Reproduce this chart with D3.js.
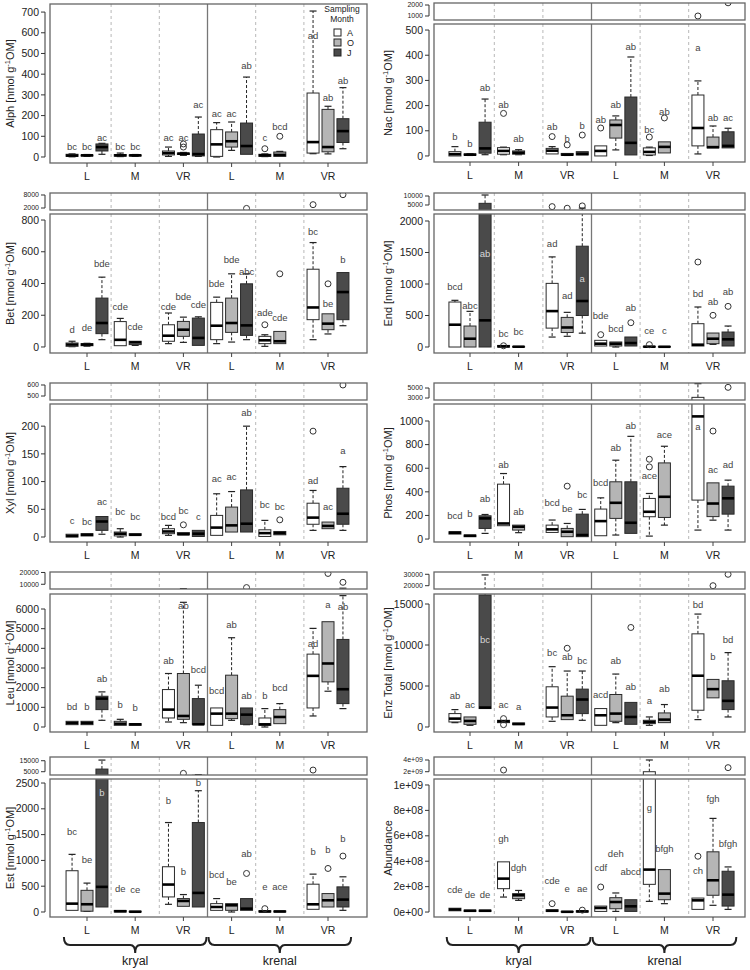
<!DOCTYPE html>
<html><head><meta charset="utf-8">
<script src="https://cdn.jsdelivr.net/npm/d3@7"></script>
<style>body{margin:0;background:#fff}svg{font-family:Arial,"Liberation Sans",sans-serif}</style>
</head><body><svg id="c" width="750" height="970"></svg>
<script>
// ---------- categories ----------
const groupLabels = ["L","M","VR","L","M","VR"];
const habitats = ["kryal","krenal"];
const months = ["A","O","J"];
const monthsPerGroup = [3,2,3,3,2,3];

// ---------- box statistics [lower whisker, Q1, median, Q3, upper whisker] ----------
// order: kryal L(A,O,J) M(A,O) VR(A,O,J), krenal L(A,O,J) M(A,O) VR(A,O,J)
const alphStats = [[1,3,7,13,15],[3,5,8,10,12],[13,29,48,63,66],[2,4,8,12,19],[3,5,8,10,12],[3,10,19,29,48],[8,12,16,19,22],[3,5,14,111,193],
  [0,3,61,132,166],[32,48,76,121,169],[13,13,53,164,386],[2,3,8,13,15],[3,3,10,24,27],[16,19,72,309,705],[15,25,48,230,245],[40,70,125,185,335]];
const alphOutliers = [[6,48],[6,63],[11,40],[12,100]];
const alphLetters = ["bc","bc","ac","bc","bc","ac","ac","ac","ac","ac","ab","c","bcd","ad","ab","ab"];
const alphLetterY = [48,48,92,48,48,92,92,253,209,209,443,92,145,587,285,370];

const nacStats = [[0,0,7,17,37],[2,3,5,8,9],[5,11,30,134,226],[5,7,20,33,35],[5,7,13,20,25],[8,8,21,30,37],[2,3,5,10,10],[4,4,8,17,17],
  [0,0,20,40,40],[24,71,123,143,159],[4,4,52,234,393],[2,4,16,32,35],[12,12,36,56,56],[8,40,111,242,298],[32,32,35,75,119],[32,32,40,96,110]];
const nacOutliers = [[3,169],[5,77],[6,44],[7,83],[8,111],[11,75],[12,151],[13,1000],[15,2200]];
const nacLetters = ["b","b","ab","ab","ab","ab","b","b","ab","ab","ab","bc","ab","a","ab","ac"];
const nacLetterY = [77,50,272,205,70,116,70,119,143,202,432,103,175,429,151,151];

const betStats = [[2,4,15,25,36],[5,8,15,21,23],[46,84,151,308,440],[8,8,45,160,180],[10,15,29,36,36],[21,36,71,140,214],[29,67,109,161,188],[10,10,57,182,190],
  [21,46,134,281,314],[31,92,151,308,461],[46,73,136,398,461],[4,21,42,67,77],[21,21,36,98,98],[46,172,249,490,658],[82,109,147,209,209],[134,172,346,469,469]];
const betOutliers = [[10,1800],[11,140],[12,461],[13,3540],[14,398],[15,8150]];
const betLetters = ["d","de","bde","cde","cde","cde","bde","cde","bde","bde","abc","ade","cde","bc","be","b"];
const betLetterY = [109,119,528,255,130,255,318,266,396,549,475,214,182,727,276,549];

const endStats = [[0,0,354,714,741],[0,0,132,333,566],[0,0,423,5925,10550],[0,0,10,25,25],[0,0,5,8,8],[158,300,570,1010,1430],[170,230,310,470,550],[220,500,730,1600,3300],
  [16,16,53,106,106],[0,16,53,80,80],[16,16,63,159,159],[0,0,5,10,10],[0,0,4,8,8],[16,16,37,370,635],[42,53,132,222,222],[16,16,122,238,333]];
const endOutliers = [[3,20],[5,4100],[6,3200],[7,4500],[8,196],[10,386],[11,37],[13,1349],[14,503],[15,645]];
const endLetters = ["bcd","abc","ab","bc","bc","ad","ad","a","bde","bcd","ab","ce","c","bd","ab","ab"];
const endLetterY = [952,661,1481,212,238,1640,810,1090,500,291,619,265,254,847,714,873];

const xylStats = [[0,0,2,5,5],[2,2,4,6,6],[5,12,28,37,37],[0,2,6,9,15],[3,3,4,6,6],[3,6,10,15,21],[4,4,5,8,8],[1,1,6,12,12],
  [3,3,17,39,78],[9,9,21,54,82],[9,9,24,85,200],[1,1,7,13,30],[4,4,7,10,10],[12,23,35,61,84],[15,15,20,27,27],[12,23,42,88,127]];
const xylOutliers = [[6,22],[12,31],[13,191],[15,600]];
const xylLetters = ["c","bc","ac","bc","bc","bcd","bc","c","ac","ac","ab","bc","bc","ad","ac","a"];
const xylLetterY = [30,28,64,46,36,36,48,36,105,109,225,58,54,101,55,156];

const phosStats = [[42,42,54,62,62],[20,20,28,34,34],[48,90,175,197,208],[113,113,132,465,555],[54,76,104,118,118],[56,56,82,118,161],[20,20,62,90,132],[20,20,34,211,251],
  [28,28,152,254,349],[34,175,307,485,668],[48,48,138,485,870],[25,189,231,344,386],[118,183,358,645,786],[76,330,1039,3130,5870],[160,190,301,476,476],[76,211,345,448,499]];
const phosOutliers = [[6,448],[11,611],[11,676],[14,915],[15,5130]];
const phosLetters = ["bcd","b","ab","ab","ab","bcd","be","bc","bcd","ab","ab","ace","ace","a","ac","ad"];
const phosLetterY = [194,211,344,634,231,307,259,372,476,775,963,541,887,955,589,631];

const leuStats = [[119,119,204,289,289],[119,119,204,289,289],[340,884,1445,1564,1785],[85,85,170,289,391],[85,85,136,170,170],[255,459,884,1904,2720],[221,391,561,2720,6340],[136,136,136,1445,2125],
  [85,85,680,969,969],[340,425,680,2635,4539],[119,136,629,969,969],[0,85,136,459,935],[170,170,510,884,1190],[561,969,2601,3706,5015],[1819,2295,3230,5354,5354],[935,1190,1921,4453,6680]];
const leuOutliers = [[10,7200],[14,19170],[15,11670]];
const leuLetters = ["bd","b","ab","b","b","ab","ab","bcd","bcd","ab","ab","b","bcd","ad","a","ab"];
const leuLetterY = [1020,1020,2465,1139,986,3349,6170,2890,1836,5185,1581,1615,2006,4216,6204,6119];

const enzStats = [[531,613,1022,1635,2125],[204,327,736,1226,1226],[2248,2248,2370,16100,29400],[531,531,695,817,817],[286,286,368,490,490],[695,1226,2370,4904,7356],[899,899,1430,3760,6825],[817,1635,3351,4618,6825],
  [204,204,1430,2248,2248],[531,695,1635,3964,6457],[327,327,1226,3000,3000],[204,409,613,817,1226],[531,531,899,1716,2738],[899,2043,6253,11361,13772],[3555,3555,4618,5803,5803],[1226,2125,3188,5640,9072]];
const enzOutliers = [[3,1022],[3,286],[6,9603],[10,12137],[14,20000],[15,30000]];
const enzLetters = ["ab","ac","bc","ac","a","bc","ab","bc","acd","ab","ab","a","ab","bd","b","bd"];
const enzLetterY = [3760,2738,10625,2738,2452,9072,8582,8051,3882,8051,4904,3269,4700,14916,8582,10625];

const estStats = [[32,32,162,800,1117],[13,15,150,420,560],[97,97,487,7400,15600],[0,0,15,30,30],[0,0,5,15,15],[149,292,532,877,1734],[110,110,214,260,338],[97,97,370,1734,2351],
  [32,32,97,162,260],[0,32,130,162,162],[32,32,65,260,260],[0,0,10,25,25],[0,0,10,20,20],[52,52,149,539,734],[97,97,227,357,357],[32,97,240,487,682]];
const estOutliers = [[6,3500],[10,747],[11,65],[13,6500],[14,844],[15,1084]];
const estLetters = ["bc","be","b","de","ce","b","b","b","bcd","be","ab","e","ace","b","b","b"];
const estLetterY = [1558,1006,2305,455,435,2156,779,2500,714,597,1136,487,500,1169,1214,1429];

// abundance in units of 1e8
const abunStats = [[0.1,0.1,0.2,0.3,0.3],[0.05,0.05,0.1,0.15,0.15],[0.05,0.05,0.1,0.15,0.15],[1.18,1.84,2.63,3.95,3.95],[0.92,1.05,1.32,1.45,1.7],[0.05,0.05,0.1,0.18,0.18],[0,0,0.02,0.05,0.05],[0,0,0.05,0.1,0.1],
  [0.05,0.05,0.32,0.47,0.47],[0.05,0.26,0.79,1.13,1.5],[0.05,0.05,0.45,0.97,0.97],[0.84,2.18,3.34,20,40],[0.66,0.97,1.45,3.34,3.34],[0.21,0.21,0.92,1.1,1.1],[0.53,1.32,2.5,4.74,7.37],[0.21,0.47,1.37,3.21,3.55]];
const abunOutliers = [[3,22.9],[5,0.66],[7,0.15],[8,1.97],[13,4.39],[15,26.9]];
const abunLetters = ["cde","de","de","gh","dgh","cde","e","ae","cdf","deh","abcd","g","bfgh","ch","fgh","bfgh"];
const abunLetterY = [1.76,1.39,1.39,5.79,3.5,2.5,1.84,1.84,3.5,4.6,3.2,8.24,5.0,3.24,8.95,5.39];

// ---------- tick values / labels ----------
const alphTicks = [0,100,200,300,400,500,600,700];
const nacTicks = [0,100,200,300,400,500], nacStripTicks = [1000,2000];
const betTicks = [0,200,400,600,800], betStripTicks = [2000,8000];
const endTicks = [0,500,1000,1500,2000], endStripTicks = [5000,10000];
const xylTicks = [0,50,100,150,200], xylStripTicks = [500,600];
const phosTicks = [0,200,400,600,800,1000], phosStripTicks = [3000,5000];
const leuTicks = [0,1000,2000,3000,4000,5000,6000], leuStripTicks = [10000,20000];
const enzTicks = [0,5000,10000,15000], enzStripTicks = [20000,30000];
const estTicks = [0,500,1000,1500,2000,2500], estStripTicks = [5000,15000];
const abunTicks = [0,2,4,6,8,10], abunTickLabels = ["0e+00","2e+08","4e+08","6e+08","8e+08","1e+09"];
const abunStripTicks = [20,40], abunStripTickLabels = ["2e+09","4e+09"];

// ---------- panel table ----------
const panels = [
  {name:"Alph", col:0,row:0, stats:alphStats, out:alphOutliers, letters:alphLetters, ly:alphLetterY, ticks:alphTicks, domain:[-29,739], mainRect:[4,163], legend:true},
  {name:"Nac", col:1,row:0, stats:nacStats, out:nacOutliers, letters:nacLetters, ly:nacLetterY, ticks:nacTicks, domain:[-24,524], sTicks:nacStripTicks, sDomain:[636,2182]},
  {name:"Bet", col:0,row:1, stats:betStats, out:betOutliers, letters:betLetters, ly:betLetterY, ticks:betTicks, domain:[-38,838], sTicks:betStripTicks, sDomain:[1077,8923]},
  {name:"End", col:1,row:1, stats:endStats, out:endOutliers, letters:endLetters, ly:endLetterY, ticks:endTicks, domain:[-95,2111], sTicks:endStripTicks, sDomain:[2222,11667]},
  {name:"Xyl", col:0,row:2, stats:xylStats, out:xylOutliers, letters:xylLetters, ly:xylLetterY, ticks:xylTicks, domain:[-9,240], sTicks:xylStripTicks, sDomain:[464,618]},
  {name:"Phos", col:1,row:2, stats:phosStats, out:phosOutliers, letters:phosLetters, ly:phosLetterY, ticks:phosTicks, domain:[-25,1144], sTicks:phosStripTicks, sDomain:[2600,6000]},
  {name:"Leu", col:0,row:3, stats:leuStats, out:leuOutliers, letters:leuLetters, ly:leuLetterY, ticks:leuTicks, domain:[-254,6763], sTicks:leuStripTicks, sDomain:[6000,20400]},
  {name:"Enz Total", col:1,row:3, stats:enzStats, out:enzOutliers, letters:enzLetters, ly:enzLetterY, ticks:enzTicks, domain:[-610,16220], sTicks:enzStripTicks, sDomain:[17100,32000]},
  {name:"Est", col:0,row:4, stats:estStats, out:estOutliers, letters:estLetters, ly:estLetterY, ticks:estTicks, domain:[-97,2578], sTicks:estStripTicks, sDomain:[2000,18400], braces:true},
  {name:"Abundance", col:1,row:4, stats:abunStats, out:abunOutliers, letters:abunLetters, ly:abunLetterY, ticks:abunTicks, tickLabels:abunTickLabels, domain:[-0.39,10.47], sTicks:abunStripTicks, sTickLabels:abunStripTickLabels, sDomain:[14.4,45.1], braces:true, plainTitle:true}
];

// ---------- layout ----------
const cols = [
  {frame:[50,367], centers:[87,328], axisX:45, labelX:39, titleX:14},
  {frame:[434,745], centers:[470,713], axisX:429, labelX:423, titleX:392}
];
const rowMain = [[24,162],[214,353],[404,542],[594,732],[779,917]];
const rowStrip = [[3,20],[193,210],[383,400],[572,589],[757,775]];
const fills = {A:"#ffffff", O:"#b5b5b5", J:"#4a4a4a"};
const slotOffset = 0.31, boxW = 12, capW = 7;

const slots = [];
monthsPerGroup.forEach((n,g)=>{ for(let m=0;m<n;m++) slots.push({g, m: months[m], off: m-1}); });

const svg = d3.select("#c");
const defs = svg.append("defs");

panels.forEach((p,pi)=>{
  const c = cols[p.col];
  const main = p.mainRect || rowMain[p.row];
  const xg = d3.scaleLinear().domain([0,5]).range(c.centers);
  const bx = i => xg(slots[i].g + slots[i].off*slotOffset);
  const y = d3.scaleLinear().domain(p.domain).range([main[1], main[0]]);
  const panes = [{y, rect:main, ticks:p.ticks, labels:p.tickLabels, fs:10.5, lo:-Infinity}];
  if (p.sDomain) {
    const sr = rowStrip[p.row];
    panes.push({y: d3.scaleLinear().domain(p.sDomain).range([sr[1], sr[0]]), rect:sr, ticks:p.sTicks, labels:p.sTickLabels, fs:7, lo:p.sDomain[0]});
  }
  const fw = c.frame[1]-c.frame[0];
  panes.forEach((pane,k)=>{
    const id = `clip${pi}_${k}`;
    defs.append("clipPath").attr("id",id).append("rect")
      .attr("x",c.frame[0]).attr("y",pane.rect[0]).attr("width",fw).attr("height",pane.rect[1]-pane.rect[0]);
    const pg = svg.append("g").attr("clip-path",`url(#${id})`);
    const ys = pane.y;
    // group separators
    for (let i=0;i<5;i++){
      const xx = xg(i+0.5);
      pg.append("line").attr("x1",xx).attr("x2",xx).attr("y1",pane.rect[0]).attr("y2",pane.rect[1])
        .attr("stroke", i===2 ? "#777" : "#b8b8b8").attr("stroke-width", i===2 ? 1.3 : 1)
        .attr("stroke-dasharray", i===2 ? null : "3,3");
    }
    // boxes
    p.stats.forEach((s,i)=>{
      const [lo,q1,med,q3,hi] = s;
      if (hi < pane.lo) return;
      const x = bx(i);
      const b = pg.append("g");
      if (hi>q3){
        b.append("line").attr("x1",x).attr("x2",x).attr("y1",ys(q3)).attr("y2",ys(hi)).attr("stroke","#222").attr("stroke-dasharray","3,2");
        b.append("line").attr("x1",x-capW/2).attr("x2",x+capW/2).attr("y1",ys(hi)).attr("y2",ys(hi)).attr("stroke","#222").attr("stroke-width",1.2);
      }
      if (lo<q1){
        b.append("line").attr("x1",x).attr("x2",x).attr("y1",ys(q1)).attr("y2",ys(lo)).attr("stroke","#222").attr("stroke-dasharray","3,2");
        b.append("line").attr("x1",x-capW/2).attr("x2",x+capW/2).attr("y1",ys(lo)).attr("y2",ys(lo)).attr("stroke","#222").attr("stroke-width",1.2);
      }
      b.append("rect").attr("x",x-boxW/2).attr("width",boxW).attr("y",ys(q3)).attr("height",Math.max(0.5,ys(q1)-ys(q3)))
        .attr("fill",fills[slots[i].m]).attr("stroke","#2a2a2a").attr("stroke-width",1);
      b.append("line").attr("x1",x-boxW/2).attr("x2",x+boxW/2).attr("y1",ys(med)).attr("y2",ys(med)).attr("stroke","#000").attr("stroke-width",2.6);
    });
    p.out.forEach(([i,v])=>{
      if (v < pane.lo) return;
      pg.append("circle").attr("cx",bx(i)).attr("cy",ys(v)).attr("r",3).attr("fill","none").attr("stroke","#333").attr("stroke-width",1);
    });
    // frame
    svg.append("rect").attr("x",c.frame[0]).attr("y",pane.rect[0]).attr("width",fw).attr("height",pane.rect[1]-pane.rect[0])
      .attr("fill","none").attr("stroke","#666").attr("stroke-width",1.3);
    // y axis (R style)
    const ax = svg.append("g");
    const tv = pane.ticks;
    ax.append("line").attr("x1",c.axisX).attr("x2",c.axisX).attr("y1",ys(d3.min(tv))).attr("y2",ys(d3.max(tv))).attr("stroke","#333");
    tv.forEach((t,j)=>{
      ax.append("line").attr("x1",c.axisX-4).attr("x2",c.axisX).attr("y1",ys(t)).attr("y2",ys(t)).attr("stroke","#333");
      ax.append("text").attr("x",c.labelX).attr("y",ys(t)).attr("dy","0.35em").attr("text-anchor","end")
        .attr("font-size",pane.fs).attr("fill","#222").text(pane.labels ? pane.labels[j] : String(t));
    });
  });
  // letters
  p.letters.forEach((t,i)=>{
    const v = p.ly[i], s = p.stats[i];
    const inDark = slots[i].m==="J" && v>s[1] && v<s[3];
    svg.append("text").attr("x",bx(i)).attr("y",y(v)).attr("dy","0.35em").attr("text-anchor","middle")
      .attr("font-size",9.5).attr("fill", inDark ? "#d8d8d8" : "#444").text(t);
  });
  // x ticks and group labels
  groupLabels.forEach((lab,gi)=>{
    svg.append("line").attr("x1",xg(gi)).attr("x2",xg(gi)).attr("y1",main[1]).attr("y2",main[1]+4).attr("stroke","#444");
    svg.append("text").attr("x",xg(gi)).attr("y",main[1]+17).attr("text-anchor","middle").attr("font-size",10.5).attr("fill","#222").text(lab);
  });
  // y title
  const tt = svg.append("text").attr("transform",`translate(${c.titleX},${(main[0]+main[1])/2}) rotate(-90)`)
    .attr("text-anchor","middle").attr("font-size",11).attr("fill","#222");
  if (p.plainTitle) tt.text(p.name);
  else {
    tt.append("tspan").text(p.name+" [nmol g");
    tt.append("tspan").attr("dy",-4).attr("font-size",7.5).text("-1");
    tt.append("tspan").attr("dy",4).text("OM]");
  }
  // legend
  if (p.legend){
    const lx = c.frame[1]-25;
    svg.append("text").attr("x",lx).attr("y",12).attr("text-anchor","middle").attr("font-size",8.5).attr("fill","#222").text("Sampling");
    svg.append("text").attr("x",lx).attr("y",22).attr("text-anchor","middle").attr("font-size",8.5).attr("fill","#222").text("Month");
    months.forEach((m,j)=>{
      svg.append("rect").attr("x",lx-8).attr("y",29+j*10).attr("width",7).attr("height",7).attr("fill",fills[m]).attr("stroke","#222");
      svg.append("text").attr("x",lx+5).attr("y",33+j*10).attr("dy","0.35em").attr("font-size",9).attr("fill","#222").text(m);
    });
  }
  // braces
  if (p.braces){
    habitats.forEach((h,hi)=>{
      const x1 = xg(hi*3-0.5)+1, x2 = xg(hi*3+2.5)-1, xm = (x1+x2)/2;
      const yb = 945;
      const path = `M${x1},${yb-8} Q${x1},${yb} ${x1+6},${yb} L${xm-5},${yb} Q${xm},${yb} ${xm},${yb+8} Q${xm},${yb} ${xm+5},${yb} L${x2-6},${yb} Q${x2},${yb} ${x2},${yb-8}`;
      svg.append("path").attr("d",path).attr("fill","none").attr("stroke","#222").attr("stroke-width",2);
      svg.append("text").attr("x",xm).attr("y",965).attr("text-anchor","middle").attr("font-size",12.5).attr("fill","#222").text(h);
    });
  }
});
</script></body></html>
